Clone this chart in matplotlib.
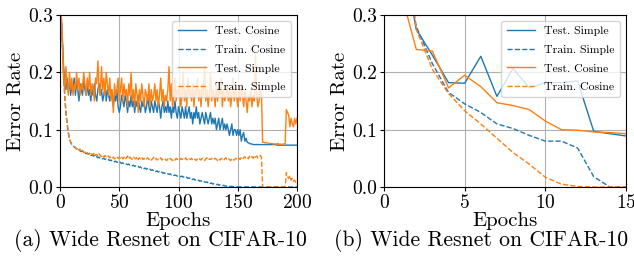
import matplotlib
matplotlib.use("Agg")
import matplotlib.pyplot as plt
import numpy as np

plt.rcParams['font.family'] = ['cmr10', 'DejaVu Serif']
plt.rcParams['axes.formatter.use_mathtext'] = True
plt.rcParams['mathtext.fontset'] = 'cm'

# ---------------- Panel (a): 200 epochs ----------------
epochs_a = list(range(1, 201))

test_cosine_a = [
    0.30, 0.26, 0.21, 0.18, 0.17, 0.19, 0.17, 0.18, 0.16, 0.18,
    0.17, 0.19, 0.16, 0.18, 0.17, 0.15, 0.18, 0.17, 0.16, 0.19,
    0.17, 0.16, 0.18, 0.16, 0.17, 0.15, 0.17, 0.16, 0.18, 0.16,
    0.15, 0.17, 0.18, 0.16, 0.17, 0.15, 0.16, 0.18, 0.15, 0.17,
    0.16, 0.15, 0.17, 0.16, 0.14, 0.16, 0.15, 0.17, 0.14, 0.13,
    0.14, 0.16, 0.15, 0.14, 0.16, 0.15, 0.13, 0.15, 0.14, 0.16,
    0.14, 0.15, 0.13, 0.15, 0.14, 0.16, 0.14, 0.13, 0.15, 0.14,
    0.15, 0.13, 0.14, 0.16, 0.14, 0.13, 0.15, 0.14, 0.13, 0.15,
    0.14, 0.13, 0.15, 0.14, 0.12, 0.14, 0.15, 0.13, 0.14, 0.13,
    0.15, 0.13, 0.14, 0.12, 0.14, 0.13, 0.15, 0.13, 0.12, 0.14,
    0.13, 0.12, 0.14, 0.13, 0.12, 0.14, 0.12, 0.13, 0.14, 0.12,
    0.13, 0.11, 0.13, 0.12, 0.14, 0.12, 0.13, 0.11, 0.12, 0.13,
    0.12, 0.11, 0.13, 0.12, 0.11, 0.12, 0.13, 0.11, 0.12, 0.11,
    0.12, 0.10, 0.11, 0.12, 0.10, 0.11, 0.12, 0.10, 0.11, 0.10,
    0.11, 0.10, 0.09, 0.10, 0.11, 0.09, 0.10, 0.10, 0.09, 0.10,
    0.09, 0.10, 0.08, 0.09, 0.095, 0.08, 0.085, 0.078, 0.077, 0.076,
    0.075, 0.075, 0.074, 0.074, 0.074, 0.074, 0.074, 0.074, 0.074, 0.074,
    0.074, 0.074, 0.074, 0.074, 0.074, 0.074, 0.074, 0.074, 0.074, 0.074,
    0.074, 0.074, 0.073, 0.073, 0.073, 0.073, 0.073, 0.073, 0.073, 0.073,
    0.073, 0.073, 0.073, 0.073, 0.073, 0.073, 0.073, 0.073, 0.073, 0.073,
]

train_cosine_a = [
    0.30, 0.25, 0.20, 0.16, 0.13, 0.11, 0.095, 0.085, 0.078, 0.074,
    0.072, 0.070, 0.068, 0.067, 0.066, 0.064, 0.063, 0.062, 0.063, 0.060,
    0.060, 0.058, 0.059, 0.057, 0.058, 0.055, 0.056, 0.054, 0.055, 0.052,
    0.053, 0.051, 0.052, 0.050, 0.051, 0.049, 0.050, 0.048, 0.049, 0.047,
    0.048, 0.046, 0.047, 0.045, 0.046, 0.044, 0.045, 0.043, 0.044, 0.042,
    0.043, 0.041, 0.042, 0.040, 0.041, 0.040, 0.039, 0.040, 0.038, 0.039,
    0.037, 0.038, 0.036, 0.037, 0.035, 0.036, 0.034, 0.035, 0.033, 0.034,
    0.032, 0.033, 0.031, 0.032, 0.030, 0.031, 0.029, 0.030, 0.028, 0.029,
    0.027, 0.028, 0.026, 0.027, 0.025, 0.026, 0.024, 0.025, 0.023, 0.024,
    0.023, 0.022, 0.023, 0.021, 0.022, 0.020, 0.021, 0.020, 0.019, 0.020,
    0.019, 0.018, 0.019, 0.017, 0.018, 0.016, 0.017, 0.015, 0.016, 0.014,
    0.015, 0.013, 0.014, 0.012, 0.013, 0.011, 0.012, 0.010, 0.011, 0.009,
    0.010, 0.009, 0.008, 0.009, 0.007, 0.008, 0.006, 0.007, 0.005, 0.006,
    0.005, 0.004, 0.005, 0.003, 0.004, 0.003, 0.002, 0.003, 0.002, 0.002,
    0.001, 0.002, 0.001, 0.001, 0.001, 0.0005, 0.0005, 0.0003, 0.0003, 0.0002,
    0.0002, 0.0002, 0.0001, 0.0001, 0.0001, 0.0001, 0.0001, 0.0001, 0.0, 0.0,
    0.0, 0.0, 0.0, 0.0, 0.0, 0.0, 0.0, 0.0, 0.0, 0.0,
    0.0, 0.0, 0.0, 0.0, 0.0, 0.0, 0.0, 0.0, 0.0, 0.0,
    0.0, 0.0, 0.0, 0.0, 0.0, 0.0, 0.0, 0.0, 0.0, 0.0,
    0.0, 0.0, 0.0, 0.0, 0.0, 0.0, 0.0, 0.0, 0.0, 0.0,
]

test_simple_a = [
    0.30, 0.25, 0.19, 0.17, 0.21, 0.18, 0.16, 0.20, 0.17, 0.19,
    0.16, 0.18, 0.17, 0.20, 0.17, 0.19, 0.16, 0.18, 0.17, 0.20,
    0.18, 0.16, 0.19, 0.17, 0.20, 0.16, 0.18, 0.17, 0.15, 0.19,
    0.18, 0.22, 0.17, 0.16, 0.21, 0.17, 0.19, 0.16, 0.20, 0.18,
    0.16, 0.19, 0.15, 0.17, 0.13, 0.18, 0.16, 0.17, 0.19, 0.15,
    0.17, 0.19, 0.15, 0.18, 0.16, 0.17, 0.14, 0.18, 0.16, 0.20,
    0.15, 0.17, 0.14, 0.18, 0.16, 0.13, 0.17, 0.15, 0.18, 0.16,
    0.14, 0.17, 0.16, 0.15, 0.18, 0.14, 0.17, 0.15, 0.16, 0.18,
    0.15, 0.17, 0.14, 0.16, 0.19, 0.15, 0.17, 0.14, 0.16, 0.15,
    0.17, 0.21, 0.15, 0.18, 0.14, 0.16, 0.19, 0.15, 0.17, 0.16,
    0.18, 0.14, 0.16, 0.20, 0.15, 0.17, 0.14, 0.19, 0.16, 0.17,
    0.15, 0.18, 0.14, 0.17, 0.16, 0.19, 0.15, 0.17, 0.14, 0.18,
    0.16, 0.21, 0.15, 0.17, 0.14, 0.16, 0.20, 0.15, 0.17, 0.16,
    0.14, 0.18, 0.15, 0.17, 0.16, 0.19, 0.14, 0.17, 0.15, 0.16,
    0.18, 0.15, 0.17, 0.14, 0.16, 0.19, 0.15, 0.17, 0.16, 0.14,
    0.17, 0.15, 0.18, 0.16, 0.14, 0.17, 0.15, 0.13, 0.16, 0.15,
    0.17, 0.14, 0.16, 0.15, 0.23, 0.16, 0.14, 0.15, 0.17, 0.16,
    0.078, 0.078, 0.077, 0.077, 0.077, 0.076, 0.076, 0.076, 0.076, 0.075,
    0.075, 0.075, 0.075, 0.076, 0.074, 0.075, 0.074, 0.075, 0.075, 0.076,
    0.135, 0.13, 0.125, 0.105, 0.12, 0.11, 0.105, 0.12, 0.11, 0.12,
]

train_simple_a = [
    0.30, 0.25, 0.20, 0.16, 0.13, 0.11, 0.095, 0.085, 0.078, 0.074,
    0.072, 0.070, 0.069, 0.066, 0.068, 0.064, 0.066, 0.062, 0.064, 0.060,
    0.061, 0.058, 0.060, 0.057, 0.059, 0.055, 0.058, 0.056, 0.060, 0.055,
    0.057, 0.054, 0.058, 0.055, 0.053, 0.056, 0.052, 0.055, 0.053, 0.051,
    0.054, 0.051, 0.053, 0.050, 0.052, 0.049, 0.051, 0.053, 0.050, 0.052,
    0.050, 0.053, 0.049, 0.052, 0.048, 0.051, 0.054, 0.049, 0.052, 0.050,
    0.048, 0.052, 0.050, 0.049, 0.053, 0.048, 0.051, 0.049, 0.052, 0.048,
    0.050, 0.047, 0.049, 0.051, 0.048, 0.050, 0.047, 0.049, 0.052, 0.048,
    0.050, 0.047, 0.049, 0.048, 0.051, 0.047, 0.049, 0.050, 0.048, 0.046,
    0.049, 0.047, 0.050, 0.048, 0.046, 0.049, 0.047, 0.050, 0.048, 0.049,
    0.047, 0.050, 0.048, 0.049, 0.047, 0.051, 0.048, 0.046, 0.049, 0.048,
    0.050, 0.047, 0.049, 0.048, 0.046, 0.050, 0.048, 0.049, 0.047, 0.050,
    0.048, 0.046, 0.049, 0.051, 0.047, 0.049, 0.048, 0.050, 0.047, 0.049,
    0.050, 0.048, 0.046, 0.049, 0.047, 0.050, 0.048, 0.046, 0.049, 0.051,
    0.047, 0.049, 0.048, 0.046, 0.050, 0.048, 0.047, 0.050, 0.049, 0.047,
    0.050, 0.048, 0.052, 0.049, 0.051, 0.053, 0.050, 0.052, 0.049, 0.054,
    0.051, 0.053, 0.050, 0.055, 0.052, 0.054, 0.051, 0.053, 0.055, 0.052,
    0.0, 0.0, 0.0, 0.0, 0.0, 0.0, 0.0, 0.0, 0.0, 0.0,
    0.0, 0.0, 0.0, 0.0, 0.0, 0.0, 0.0, 0.0, 0.0, 0.0,
    0.025, 0.018, 0.015, 0.020, 0.012, 0.015, 0.010, 0.012, 0.008, 0.008,
]

# ---------------- Panel (b): 15 epochs ----------------
epochs_b = list(range(1, 16))
test_simple_b = [0.43, 0.275, 0.23, 0.182, 0.181, 0.228, 0.158, 0.207, 0.173,
                 0.182, 0.182, 0.185, 0.097, 0.093, 0.089]
train_simple_b = [0.45, 0.28, 0.215, 0.165, 0.145, 0.13, 0.11, 0.102, 0.09,
                  0.08, 0.08, 0.068, 0.018, 0.0, 0.0]
test_cosine_b = [0.345, 0.24, 0.237, 0.173, 0.195, 0.175, 0.147, 0.142, 0.135,
                 0.115, 0.10, 0.099, 0.096, 0.095, 0.093]
train_cosine_b = [0.45, 0.275, 0.205, 0.163, 0.133, 0.11, 0.085, 0.06, 0.04,
                  0.017, 0.005, 0.001, 0.0, 0.0, 0.0]

blue = '#1f77b4'
orange = '#ff7f0e'

fig = plt.figure(figsize=(6.34, 2.59), dpi=100)
axA = fig.add_axes([60/634, 1-187/259, 237/634, 172/259])
axB = fig.add_axes([384/634, 1-187/259, 242/634, 172/259])

lw = 1.0
axA.plot(epochs_a, test_cosine_a, color=blue, lw=lw, label='Test. Cosine')
axA.plot(epochs_a, train_cosine_a, color=blue, lw=lw, ls='--', label='Train. Cosine')
axA.plot(epochs_a, test_simple_a, color=orange, lw=lw, label='Test. Simple')
axA.plot(epochs_a, train_simple_a, color=orange, lw=lw, ls='--', label='Train. Simple')
axA.set_xlim(0, 200)
axA.set_xticks([0, 50, 100, 150, 200])

axB.plot(epochs_b, test_simple_b, color=blue, lw=lw, label='Test. Simple')
axB.plot(epochs_b, train_simple_b, color=blue, lw=lw, ls='--', label='Train. Simple')
axB.plot(epochs_b, test_cosine_b, color=orange, lw=lw, label='Test. Cosine')
axB.plot(epochs_b, train_cosine_b, color=orange, lw=lw, ls='--', label='Train. Cosine')
axB.set_xlim(0, 15)
axB.set_xticks([0, 5, 10, 15])

for ax in (axA, axB):
    ax.set_ylim(0, 0.3)
    ax.set_yticks([0.0, 0.1, 0.2, 0.3])
    ax.set_yticklabels(['0.0', '0.1', '0.2', '0.3'])
    ax.grid(True, color='#b0b0b0', lw=0.8)
    ax.set_axisbelow(True)
    ax.tick_params(labelsize=14, length=3, pad=2)
    ax.set_xlabel('Epochs', fontsize=15, labelpad=0)
    ax.set_ylabel('Error Rate', fontsize=15, labelpad=2)
    ax.legend(loc='upper right', fontsize=8.5, framealpha=0.8,
              handlelength=2.4, handletextpad=0.8, labelspacing=0.7,
              borderaxespad=0.5, borderpad=0.45)

fig.text(160/634, 1-241/259, '(a) Wide Resnet on CIFAR-10', ha='center',
         va='center', fontsize=15.6)
fig.text(481/634, 1-241/259, '(b) Wide Resnet on CIFAR-10', ha='center',
         va='center', fontsize=15.6)

fig.savefig('out.png', dpi=100)
